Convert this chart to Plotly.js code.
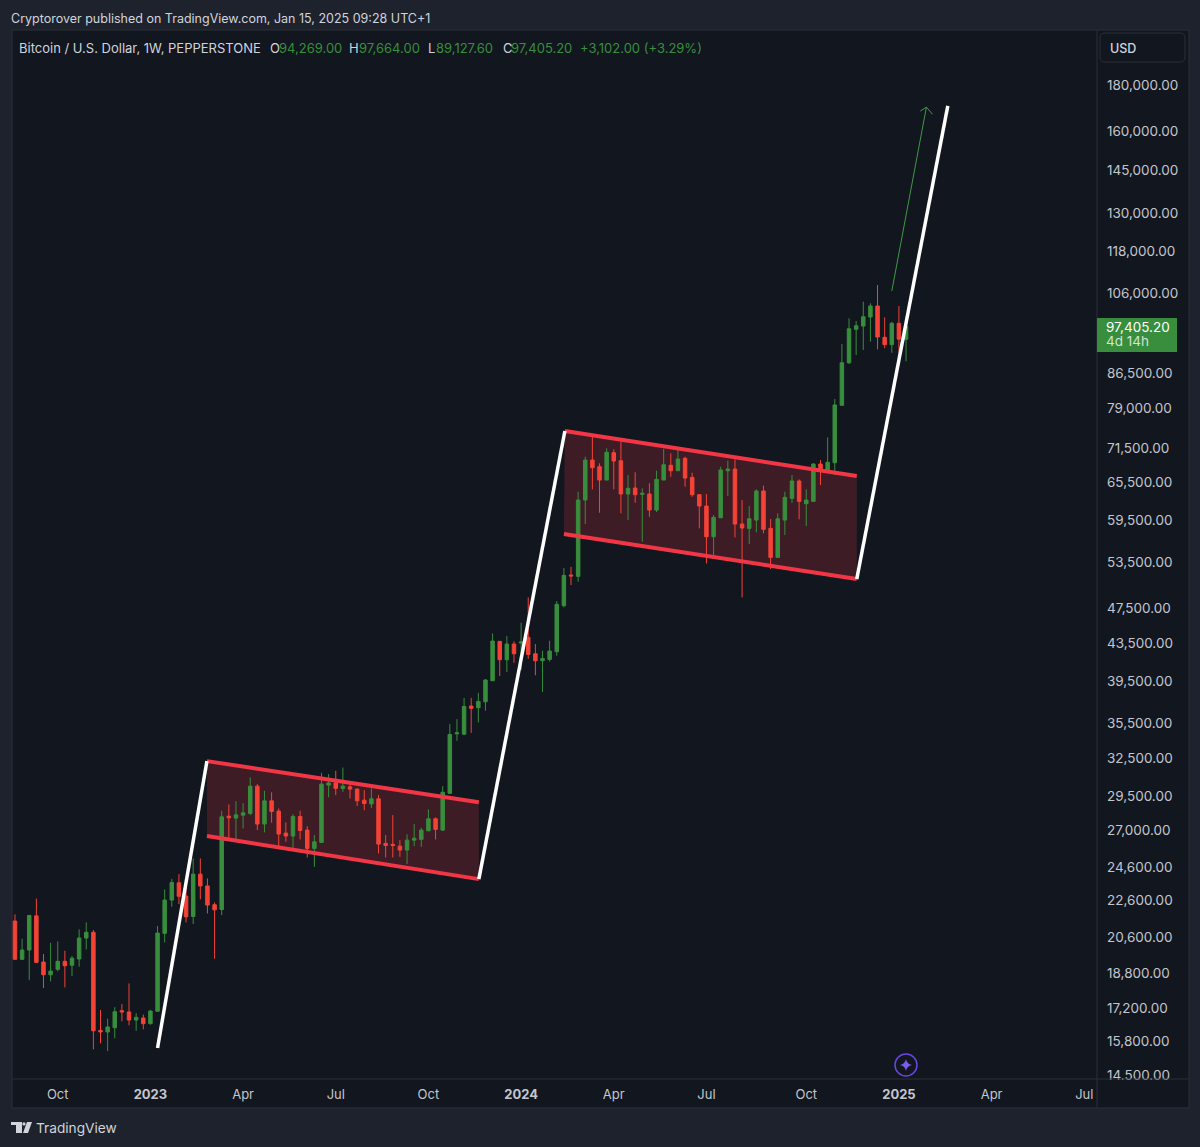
<!DOCTYPE html>
<html><head><meta charset="utf-8">
<script src="https://cdn.plot.ly/plotly-3.0.1.min.js"></script>
<style>html,body{margin:0;padding:0;background:#1e222d}#c{width:1200px;height:1147px}</style>
</head><body><div id="c"></div>
<script>
const weeks2022=['08-22','08-29','09-05','09-12','09-19','09-26','10-03','10-10','10-17','10-24','10-31','11-07','11-14','11-21','11-28','12-05','12-12','12-19','12-26'];
const weeks2023=['01-02','01-09','01-16','01-23','01-30','02-06','02-13','02-20','02-27','03-06','03-13','03-20','03-27','04-03','04-10','04-17','04-24','05-01','05-08','05-15','05-22','05-29','06-05','06-12','06-19','06-26','07-03','07-10','07-17','07-24','07-31','08-07','08-14','08-21','08-28','09-04','09-11','09-18','09-25','10-02','10-09','10-16','10-23','10-30','11-06','11-13','11-20','11-27','12-04','12-11','12-18','12-25'];
const weeks2024=['01-01','01-08','01-15','01-22','01-29','02-05','02-12','02-19','02-26','03-04','03-11','03-18','03-25','04-01','04-08','04-15','04-22','04-29','05-06','05-13','05-20','05-27','06-03','06-10','06-17','06-24','07-01','07-08','07-15','07-22','07-29','08-05','08-12','08-19','08-26','09-02','09-09','09-16','09-23','09-30','10-07','10-14','10-21','10-28','11-04','11-11','11-18','11-25','12-02','12-09','12-16','12-23','12-30'];
const weeks2025=['01-06','01-13'];
const opens=[21455,19465,19930,21740,19330,18715,18975,19365,19170,19480,
20550,20850,16245,16180,16355,17080,17025,16680,16765,16525,
17055,20795,22630,23650,22860,21705,24175,23460,22365,22095,
28015,27880,28090,28215,30240,27460,29130,28380,26835,26635,
27995,27040,25810,26205,30320,30490,30070,30190,30015,29180,
28905,29280,26140,26075,25960,25700,26360,26410,26990,27830,
27040,29695,34545,34520,37070,36915,37480,39540,43710,41710,
43410,43520,44160,42350,41610,41750,42570,47860,51750,51570,
62620,69330,68170,65890,70640,69210,63590,64570,63540,63590,
61050,65890,68410,67470,69630,66340,63480,61670,57040,59860,
67470,67760,58910,58270,59510,64080,58270,54120,59510,62890,
65730,62040,62410,68630,67470,68860,79690,88810,96680,97500,
99760,102590,94730,92980,98180,94269];
const closes=[19465,19930,21765,19315,18715,18890,19365,19150,19520,20550,
20850,16230,16180,16385,17035,17025,16680,16795,16525,17065,
20810,22630,23670,22850,21685,24175,23460,22345,22075,27970,
27900,28110,28255,30240,27460,29130,28355,26770,26635,27995,
27020,25810,26245,30395,30490,30070,30240,30015,29130,28935,
29280,26095,26005,26005,25700,26360,26490,27040,27830,27090,
29770,34490,34635,37040,36860,37515,39610,43740,41710,43410,
42350,43630,42280,41610,41855,42640,48030,51700,51620,62620,
69330,67990,65890,70710,69155,63590,64520,63480,63700,61050,
66000,68510,67470,69510,66230,63480,61670,57040,59920,67590,
67760,58910,58320,59710,64080,58120,54120,59710,63060,65730,
62410,62620,68630,67590,68930,79750,88810,96825,97570,99830,
102590,94800,92980,98180,94303.2,97405.2];
const highs=[21820,20510,21780,22720,19730,20300,20370,19895,19630,21005,
21385,20970,17110,16735,17230,17370,18305,16970,16910,17110,
21185,23250,23885,24175,23420,25160,25160,23910,22500,28400,
28860,29105,28960,30920,30395,29885,29770,28570,27580,28160,
28400,27320,26700,31285,31180,31445,31710,30575,30070,29940,
30070,29560,26700,28090,26360,26750,27460,27200,28500,27930,
30240,35410,35860,37860,37860,38345,39710,44605,43740,44300,
43710,45825,48885,43410,42675,43770,48430,52670,52840,63960,
69920,73570,68750,71430,71250,72640,66730,67200,64520,65340,
67470,71300,70530,71620,69920,67130,63590,63590,60280,68170,
69210,69450,62620,61670,64360,64950,59660,60540,63960,66730,
66000,64360,68750,69330,73450,80970,93160,99430,98750,103720,
103290,108220,99680,98580,102590,97664];
const lows=[19450,19430,18460,19285,18090,18400,18880,18120,18655,19100,
19960,15480,15720,15410,15920,16625,16455,16230,16290,16485,
17040,20320,22250,22400,21385,21295,22670,21875,19495,21780,
26510,26425,27155,28090,27040,26885,27550,25960,26245,25850,
26410,25220,24625,26190,29390,29560,29810,29310,28745,28450,
28600,25480,25220,25220,25260,24800,25960,25915,26980,26410,
26990,29640,33940,34430,34635,35560,36640,39530,40020,40425,
41390,40630,41815,40090,38415,41540,42140,47660,50440,50870,
58910,64360,60630,65880,64360,60540,59510,62190,56320,60020,
60740,65880,66450,67460,64790,63150,58270,53280,54440,59850,
63260,56950,48885,55990,57680,57540,52530,54110,57280,62190,
59620,58610,62400,65060,67300,66730,79610,88510,90570,91730,
93680,91890,92120,91100,91100,89127.6];
const priceTicks=[180000,160000,145000,130000,118000,106000,86500,79000,71500,65500,59500,53500,47500,43500,39500,35500,32500,29500,27000,24600,22600,20600,18800,17200,15800,14500];
const timeTicks=['2022-10-03','2023-01-02','2023-04-03','2023-07-03','2023-10-02','2024-01-01','2024-04-01','2024-07-01','2024-10-07','2025-01-06','2025-04-07','2025-07-07'];
const timeLabels=['Oct','<b>2023</b>','Apr','Jul','Oct','<b>2024</b>','Apr','Jul','Oct','<b>2025</b>','Apr','Jul'];
// Drawing tools, read as date / price
const impulse1X=['2023-01-09','2023-02-26_12:00'], impulse1Y=[15530,32230];
const flag1TopX=['2023-02-26_12:00','2023-11-20_12:00'], flag1TopY=[32230,29030];
const flag1BotX=['2023-02-26_12:00','2023-11-20_12:00'], flag1BotY=[26635,23870];
const impulse2X=['2023-11-20_12:00','2024-02-13'], impulse2Y=[23870,74640];
const flag2TopX=['2024-02-13','2024-11-25_14:00'], flag2TopY=[74640,66570];
const flag2BotX=['2024-02-12','2024-11-25_14:00'], flag2BotY=[57435,51215];
const impulse3X=['2024-11-25_14:00','2025-02-23'], impulse3Y=[51215,170700];
const arrowX=['2024-12-30','2025-02-02'], arrowY=[106580,170170];
const arrowHeadX=['2025-01-27','2025-02-02','2025-02-08'], arrowHeadY=[168500,170170,167100];
const header={symbol:'Bitcoin / U.S. Dollar, 1W, PEPPERSTONE',O:'94,269.00',H:'97,664.00',L:'89,127.60',C:'97,405.20',chg:'+3,102.00 (+3.29%)'};
const publishLine='Cryptorover published on TradingView.com, Jan 15, 2025 09:28 UTC+1';

const dates=[...weeks2022.map(d=>'2022-'+d),...weeks2023.map(d=>'2023-'+d),...weeks2024.map(d=>'2024-'+d),...weeks2025.map(d=>'2025-'+d)];
const UP='#388e3c',DOWN='#f44336',FRAME='#2a2e39',BG='#12161f',OUT='#1e222d',TXT='#d1d4dc',AX='#c3c6ce',REDL='#f23645',FILL='rgba(242,54,69,0.2)';
const L=12,R=1097,T=30,B=1079;
const px=x=>(x-L)/(R-L), py=y=>1-(y-T)/(B-T);
const rectP=(x0,y0,x1,y1,o)=>Object.assign({type:'rect',xref:'paper',yref:'paper',x0:px(x0),x1:px(x1),y0:py(y0),y1:py(y1),line:{width:0}},o);
const pathP=(pts,o)=>Object.assign({type:'path',xref:'paper',yref:'paper',path:pts,line:{width:0}},o);
const P=(x,y)=>px(x).toFixed(5)+','+py(y).toFixed(5);
const poly=a=>'M'+a.map(p=>P(p[0],p[1])).join(' L')+' Z';
function round(x0,y0,x1,y1,r){return `M${P(x0+r,y0)} L${P(x1-r,y0)} Q${P(x1,y0)} ${P(x1,y0+r)} L${P(x1,y1-r)} Q${P(x1,y1)} ${P(x1-r,y1)} L${P(x0+r,y1)} Q${P(x0,y1)} ${P(x0,y1-r)} L${P(x0,y0+r)} Q${P(x0,y0)} ${P(x0+r,y0)} Z`;}
const line=(x,y,color,width)=>({type:'scatter',mode:'lines',x:x.map(d=>d.replace('_',' ')),y,line:{color,width},hoverinfo:'skip',showlegend:false});
const flagArea=(xa,ya,xb,yb)=>({type:'path',xref:'x',yref:'y',layer:'below',fillcolor:FILL,line:{width:0},
  path:`M${xa[0]},${ya[0]} L${xa[1]},${ya[1]} L${xb[1]},${yb[1]} L${xb[0]},${yb[0]} Z`});
const traces=[
 {type:'candlestick',x:dates,open:opens,high:highs,low:lows,close:closes,whiskerwidth:0,
  increasing:{line:{color:UP,width:1},fillcolor:UP},decreasing:{line:{color:DOWN,width:1},fillcolor:DOWN},hoverinfo:'skip',showlegend:false},
 line(flag1TopX,flag1TopY,REDL,4),line(flag1BotX,flag1BotY,REDL,4),
 line(flag2TopX,flag2TopY,REDL,4),line(flag2BotX,flag2BotY,REDL,4),
 line(impulse1X,impulse1Y,'#ffffff',3.5),line(impulse2X,impulse2Y,'#ffffff',3.5),line(impulse3X,impulse3Y,'#ffffff',3.5),
 line(arrowX,arrowY,'#3f9a45',1),line(arrowHeadX,arrowHeadY,'#3f9a45',1)
];
const note=(x,y,text,color,size,extra)=>Object.assign({xref:'paper',yref:'paper',x:px(x),y:py(y),xanchor:'left',yanchor:'middle',showarrow:false,text,borderpad:0,borderwidth:0,font:{family:'Inter, sans-serif',size:size,color:color}},extra||{});
const annotations=[
 note(11,19,publishLine,TXT,12.5),
 note(19,48,header.symbol,TXT,13),
 note(270,48,'O',TXT,13),note(279,48,header.O,UP,13),
 note(349,48,'H',TXT,13),note(359,48,header.H,UP,13),
 note(428,48,'L',TXT,13),note(436,48,header.L,UP,13),
 note(503,48,'C',TXT,13),note(511,48,header.C,UP,13),
 note(580,48,header.chg,UP,13),
 note(1110,48,'USD',TXT,12.5,{font:{family:'Inter, sans-serif',size:12.5,color:TXT,weight:500}}),
 note(1106,327,header.C,'#ffffff',13.5),
 note(1106,341,'4d 14h','#cfe6d0',13.5),
 note(36,1128,'TradingView',TXT,13.7)
];
const shapes=[
 rectP(12,30,1189,1108,{layer:'below',fillcolor:BG,line:{color:FRAME,width:1}}),
 flagArea(flag1TopX,flag1TopY,flag1BotX,flag1BotY),
 flagArea(flag2TopX,flag2TopY,flag2BotX,flag2BotY),
 rectP(1098,1080,1188,1107,{layer:'above',fillcolor:BG}),
 pathP(`M${P(1097,30)} L${P(1097,1108)}`,{layer:'above',line:{color:FRAME,width:1}}),
 pathP(`M${P(12,1079)} L${P(1189,1079)}`,{layer:'above',line:{color:FRAME,width:1}}),
 rectP(1097,318,1177,352,{layer:'above',fillcolor:UP}),
 pathP(round(1100,33,1185,62,5),{layer:'above',line:{color:FRAME,width:1}}),
 // purple sparkle badge
 {type:'circle',xref:'paper',yref:'paper',x0:px(895),x1:px(917),y0:py(1076),y1:py(1054),line:{color:'#6a45e0',width:1.5},layer:'above'},
 pathP(`M${P(906,1059)} Q${P(906.8,1064.2)} ${P(912,1065)} Q${P(906.8,1065.8)} ${P(906,1071)} Q${P(905.2,1065.8)} ${P(900,1065)} Q${P(905.2,1064.2)} ${P(906,1059)} Z`,{layer:'above',fillcolor:'#7a5cf0'}),
 // TradingView logo
 pathP(poly([[11,1122],[22,1122],[22,1133],[16,1133],[16,1125],[11,1125]]),{layer:'above',fillcolor:TXT}),
 {type:'circle',xref:'paper',yref:'paper',x0:px(22.4),x1:px(25.6),y0:py(1125.6),y1:py(1122.2),fillcolor:TXT,line:{width:0},layer:'above'},
 pathP(poly([[27,1122],[32,1122],[28,1133],[23,1133]]),{layer:'above',fillcolor:TXT})
];
const layout={width:1200,height:1147,paper_bgcolor:OUT,plot_bgcolor:'rgba(0,0,0,0)',
 margin:{l:L,r:1200-R,t:T,b:1147-B,pad:0},showlegend:false,hovermode:false,boxgap:0.3,
 font:{family:'Inter, sans-serif',color:AX,size:13},
 xaxis:{type:'date',range:['2022-08-19 02:00','2025-07-19 12:00'],rangeslider:{visible:false},showgrid:false,zeroline:false,showline:false,
  tickmode:'array',tickvals:timeTicks,ticktext:timeLabels,ticks:'',ticklabelstandoff:6,tickangle:0,tickfont:{family:'Inter, sans-serif',size:13,color:AX}},
 yaxis:{type:'log',side:'right',range:[4.1570,5.3161],showgrid:false,zeroline:false,showline:false,
  tickmode:'array',tickvals:priceTicks,ticktext:priceTicks.map(v=>v.toLocaleString('en-US',{minimumFractionDigits:2,maximumFractionDigits:2})),ticks:'',ticklabelstandoff:9,tickfont:{family:'Inter, sans-serif',size:13.5,color:AX}},
 shapes,annotations};
Plotly.newPlot('c',traces,layout,{displayModeBar:false,staticPlot:true});
</script></body></html>
